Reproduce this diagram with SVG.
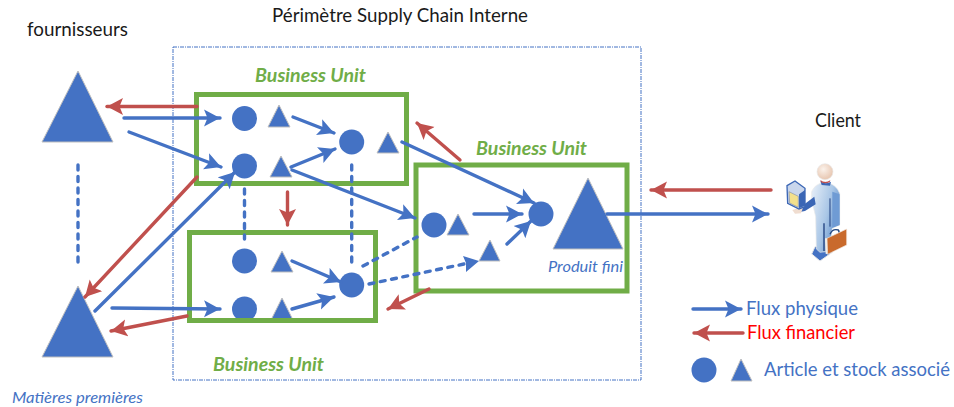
<svg xmlns="http://www.w3.org/2000/svg" width="954" height="407" viewBox="0 0 954 407">
<style>
text{font-family:"Lato","Carlito","Open Sans",sans-serif}
.tb{fill:#1a1a1a;font-size:19px}
.bu{fill:#70AD47;font-size:19px;font-weight:700;font-style:italic}
.it{fill:#4472C4;font-size:15px;font-style:italic}
.lg{fill:#4472C4;font-size:19px}
.c{fill:#4472C4}
.t{fill:#4472C4;stroke:#BFBFBF;stroke-width:1}
.box{fill:none;stroke:#70AD47;stroke-width:5}
.b,.r,.d{fill:none;stroke-width:3.4;stroke-linecap:round}
.b{stroke:#4472C4;marker-end:url(#ab)}
.r{stroke:#C0504D;marker-end:url(#ar)}
.d{stroke:#4472C4;stroke-dasharray:5 6.5}
</style>
<defs>
<marker id="ab" markerUnits="userSpaceOnUse" markerWidth="17" markerHeight="18" refX="16" refY="9" orient="auto"><path d="M16,9 L0,0.5 L3.5,9 L0,17.5 Z" fill="#4472C4"/></marker>
<marker id="ar" markerUnits="userSpaceOnUse" markerWidth="17" markerHeight="18" refX="16" refY="9" orient="auto"><path d="M16,9 L0,0.5 L3.5,9 L0,17.5 Z" fill="#C0504D"/></marker>
<linearGradient id="body" x1="0" x2="1" y1="0" y2="0.6"><stop offset="0" stop-color="#EAF1F9"/><stop offset="0.6" stop-color="#A9C6E6"/><stop offset="1" stop-color="#5F8FCB"/></linearGradient>
<radialGradient id="head" cx="0.4" cy="0.35" r="0.7"><stop offset="0" stop-color="#FBF2EB"/><stop offset="1" stop-color="#E6C3AC"/></radialGradient>
</defs>
<rect id="perimetre" x="173" y="47" width="468" height="333" fill="none" stroke="#4472C4" stroke-width="1" stroke-dasharray="4 1 1 1"/>
<g id="titres">
<text class="tb" x="272" y="22" textLength="256" lengthAdjust="spacingAndGlyphs">Périmètre Supply Chain Interne</text>
<text class="tb" x="27" y="36" textLength="101" lengthAdjust="spacingAndGlyphs">fournisseurs</text>
<text class="tb" x="815" y="127" textLength="46" lengthAdjust="spacingAndGlyphs">Client</text>
</g>
<g id="fournisseur-haut"><polygon class="t" points="78,71 113,142 42,142"/></g>
<g id="fournisseur-bas"><polygon class="t" points="78,286 113,357 42,357"/><text class="it" x="12" y="403" textLength="131" lengthAdjust="spacingAndGlyphs">Matières premières</text></g>
<g id="bu1">
<circle class="c" cx="244.5" cy="118.5" r="12.5"/><polygon class="t" points="279,105 290,127 268,127"/>
<circle class="c" cx="244.5" cy="166" r="12.5"/><polygon class="t" points="281,156 292,177 270,177"/>
<circle class="c" cx="351.7" cy="142" r="12.5"/><polygon class="t" points="388,132 399,153 377,153"/>
<rect class="box" x="196.5" y="94.5" width="210" height="89"/>
<text class="bu" x="255" y="82" textLength="111" lengthAdjust="spacingAndGlyphs">Business Unit</text>
</g>
<g id="bu2">
<circle class="c" cx="244.5" cy="261" r="12.5"/><polygon class="t" points="282,251 293,272 271,272"/>
<circle class="c" cx="244.5" cy="309" r="12.5"/><polygon class="t" points="282,298 293,320 271,320"/>
<circle class="c" cx="351.7" cy="285" r="12.5"/>
<rect class="box" x="189.5" y="232.5" width="186" height="88"/>
<text class="bu" x="213" y="371" textLength="111" lengthAdjust="spacingAndGlyphs">Business Unit</text>
</g>
<g id="bu3">
<circle class="c" cx="434" cy="225" r="12.5"/><polygon class="t" points="458,214 469,235 447,235"/>
<polygon class="t" points="490,240 500,261 479,261"/>
<circle class="c" cx="541" cy="214" r="12.5"/>
<polygon class="t" points="588,178 623,249 553,249"/>
<text class="it" x="548" y="272" textLength="75" lengthAdjust="spacingAndGlyphs">Produit fini</text>
<rect class="box" x="416" y="165" width="211" height="126"/>
<text class="bu" x="476" y="155" textLength="111" lengthAdjust="spacingAndGlyphs">Business Unit</text>
</g>
<g id="client" transform="translate(775,155) scale(0.3333)">
<path d="M120,275 L110,297 L135,318 L172,292 L165,270 Z" fill="#4472C4" stroke="#E8E8E8" stroke-width="3"/>
<path d="M110,110 Q118,88 150,80 Q185,88 194,115 L194,210 L172,220 L165,275 L152,290 L135,292 L124,282 L122,185 L110,135 Z" fill="url(#body)" stroke="#E8E8E8" stroke-width="2"/>
<path d="M172,110 L194,118 L194,210 L172,218 Z" fill="#6F9BD4"/>
<path d="M147,205 L147,288" stroke="#1F3F7F" stroke-width="4" fill="none"/>
<path d="M165,130 L165,215" stroke="#1F3F7F" stroke-width="3" fill="none"/>
<path d="M136,78 Q150,90 168,80 L165,92 L140,90 Z" fill="#3B66B5"/>
<path d="M136,75 Q150,86 166,76 L164,82 Q150,88 138,82 Z" fill="#C0504D"/>
<circle cx="150" cy="50" r="24" fill="url(#head)" stroke="#E8E8E8" stroke-width="2"/>
<path d="M118,125 L122,148 L90,168 L70,172 L60,165 L85,150 Z" fill="#3B66B5"/>
<path d="M52,165 L85,155 L78,175 L60,176 Z" fill="#F0DDD0"/>
<polygon points="36,92 60,78 90,100 90,155 72,162 38,145" fill="#C9D6EC" stroke="#3B66B5" stroke-width="4"/>
<polygon points="42,110 70,124 70,157 44,144" fill="#F3E08C" stroke="#8A93A8" stroke-width="2"/>
<polygon points="72,118 90,105 90,152 72,160" fill="#3B66B5"/>
<path d="M165,238 Q172,220 190,225 Q195,232 190,240" fill="none" stroke="#24477F" stroke-width="4"/>
<polygon points="150,250 158,250 158,298 152,296" fill="#F4EFE8"/>
<polygon points="156,250 215,222 215,270 158,298" fill="#C96A2C" stroke="#F0E6DC" stroke-width="2"/>
</g>
<g id="legende">
<circle class="c" cx="704" cy="370" r="12.5"/><polygon class="t" points="741,359 752,381 731,381"/>
<text class="lg" x="746" y="315" textLength="112" lengthAdjust="spacingAndGlyphs">Flux physique</text>
<text class="lg" x="747" y="339" textLength="108" lengthAdjust="spacingAndGlyphs" style="fill:#FF0000">Flux financier</text>
<text class="lg" x="764" y="376" textLength="186" lengthAdjust="spacingAndGlyphs">Article et stock associé</text>
</g>
<g id="connecteurs">
<path class="r" d="M197,106.5 L107,106.5"/>
<path class="b" d="M124,118 L220,118"/>
<path class="b" d="M129,132 L221,167"/>
<path class="b" d="M293,117 L334,133"/>
<path class="b" d="M291,167 L335,149"/>
<path class="b" d="M402,142 L534,203"/>
<path class="b" d="M292,170 L415,218"/>
<path class="b" d="M95,311 L235,172"/>
<path class="r" d="M197,177 L85,297"/>
<path class="r" d="M287.5,192 L287.5,225"/>
<path class="b" d="M112,308 L220,309"/>
<path class="r" d="M187,316 L111,331"/>
<path class="b" d="M292,261 L341,282"/>
<path class="b" d="M292,309 L334,297"/>
<path class="r" d="M429,289 L388,309"/>
<path class="r" d="M460,160 L417,123"/>
<path class="d" d="M78,165 L78,262"/>
<path class="d" d="M244.5,189 L244.5,239"/>
<path class="d" d="M351.7,165 L351.7,262"/>
<path class="d" d="M363,266 L417,237"/>
<path class="d" d="M369,284 L464,264"/>
<path d="M479,261 L463,256 L466,263 L466,272 Z" fill="#4472C4"/>
<path class="b" d="M474,214 L522,214"/>
<path class="b" d="M507,244 L531,221"/>
<path class="b" d="M607,214 L768,214"/>
<path class="r" d="M771,190 L651,190"/>
<path class="b" d="M693,309 L741,309"/>
<path class="r" d="M743,333 L694,333"/>
</g>
</svg>
